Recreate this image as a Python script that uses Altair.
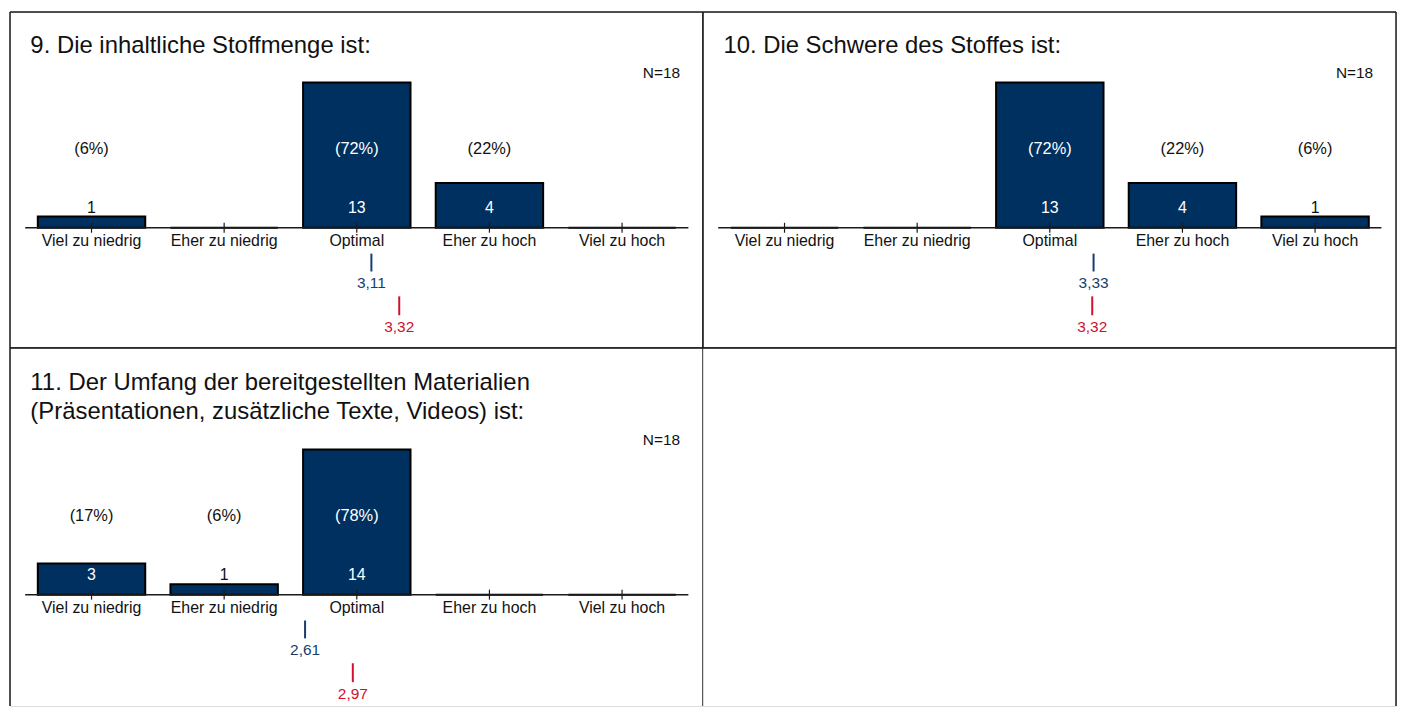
import altair as alt
import pandas as pd

# ---------------- data ----------------
categories = ["Viel zu niedrig", "Eher zu niedrig", "Optimal", "Eher zu hoch", "Viel zu hoch"]
titles = [
    "9. Die inhaltliche Stoffmenge ist:",
    "10. Die Schwere des Stoffes ist:",
    "11. Der Umfang der bereitgestellten Materialien\n(Präsentationen, zusätzliche Texte, Videos) ist:",
]
counts = [
    [1, 0, 13, 4, 0],
    [0, 0, 13, 4, 1],
    [3, 1, 14, 0, 0],
]
pct_labels = [
    ["(6%)", "", "(72%)", "(22%)", ""],
    ["", "", "(72%)", "(22%)", "(6%)"],
    ["(17%)", "(6%)", "(78%)", "", ""],
]
n_values = [18, 18, 18]
mean_blue = [3.11, 3.33, 2.61]
mean_red = [3.32, 3.32, 2.97]

# ---------------- style / layout ----------------
FONT = "Liberation Sans"
NAVY = "#00305f"
BLUE = "#173d6c"
RED = "#d0102c"
W = 697
MAX_BAR_PX = 146.0  # tallest bar of each panel, in pixels
CENTER1 = 82.0      # px of first category inside a panel
STEP = 133.4        # px between categories
XS = alt.Scale(domain=[1 - CENTER1 / STEP, 1 + (W - CENTER1) / STEP], nice=False, zero=False)


def border_layer(H, top=True, left=True, right=True, bottom=True):
    d = pd.DataFrame({"k": [0]})
    layers = []
    base = alt.Chart(d).mark_rule(color="#1a1a1a", strokeWidth=1.5)
    if top:
        layers.append(base.encode(x=alt.value(0), x2=alt.value(W), y=alt.value(0)))
    if bottom:
        layers.append(base.encode(x=alt.value(0), x2=alt.value(W), y=alt.value(H)))
    if left:
        layers.append(base.encode(x=alt.value(0), y=alt.value(0), y2=alt.value(H)))
    if right:
        layers.append(base.encode(x=alt.value(W), y=alt.value(0), y2=alt.value(H)))
    return layers


def make_panel(i, H, baseline, title_y, line_height, borders):
    ppu = MAX_BAR_PX / max(counts[i])
    ys = alt.Scale(domain=[-(H - baseline) / ppu, baseline / ppu], nice=False, zero=False)
    df = pd.DataFrame({
        "pos": [1, 2, 3, 4, 5],
        "cat": categories,
        "count": counts[i],
        "pct": pct_labels[i],
    })
    base = alt.Chart(df)

    bars = base.transform_calculate(
        x0="datum.pos - 0.405", x1="datum.pos + 0.405"
    ).mark_bar(fill=NAVY, stroke="black", strokeWidth=2).encode(
        x=alt.X("x0:Q", scale=XS, axis=None),
        x2="x1:Q",
        y=alt.Y("count:Q", scale=ys, axis=None),
        y2=alt.datum(0),
    )

    axis_line = alt.Chart(pd.DataFrame({"a": [0.5], "b": [5.5]})).mark_rule(
        color="#1a1a1a", strokeWidth=1.5
    ).encode(
        x=alt.X("a:Q", scale=XS, axis=None), x2="b:Q",
        y=alt.Y("z:Q", scale=ys, axis=None),
    ).transform_calculate(z="0")

    ticks = base.mark_rule(color="#1a1a1a", strokeWidth=1.2).encode(
        x=alt.X("pos:Q", scale=XS, axis=None),
        y=alt.value(baseline - 5), y2=alt.value(baseline + 5),
    )

    cat_labels = base.mark_text(font=FONT, fontSize=16, color="#111", baseline="middle").encode(
        x=alt.X("pos:Q", scale=XS, axis=None),
        y=alt.value(baseline + 13),
        text="cat:N",
    )

    count_labels = base.transform_filter("datum.count > 0").mark_text(
        font=FONT, fontSize=16, baseline="middle"
    ).encode(
        x=alt.X("pos:Q", scale=XS, axis=None),
        y=alt.value(baseline - 20),
        text="count:Q",
        color=alt.condition(f"datum.count * {ppu} >= 26", alt.value("white"), alt.value("#111")),
    )

    pct_text = base.transform_filter("datum.pct != ''").mark_text(
        font=FONT, fontSize=16.5, baseline="middle"
    ).encode(
        x=alt.X("pos:Q", scale=XS, axis=None),
        y=alt.value(baseline - 79),
        text="pct:N",
        color=alt.condition(f"datum.count * {ppu} >= 92", alt.value("white"), alt.value("#111")),
    )

    mdf = pd.DataFrame({"m": [mean_blue[i]], "r": [mean_red[i]]})
    mbase = alt.Chart(mdf).transform_calculate(
        ml="replace(format(datum.m, '.2f'), '.', ',')",
        rl="replace(format(datum.r, '.2f'), '.', ',')",
    )
    blue_tick = mbase.mark_rule(color=BLUE, strokeWidth=2).encode(
        x=alt.X("m:Q", scale=XS, axis=None),
        y=alt.value(baseline + 26), y2=alt.value(baseline + 44),
    )
    blue_text = mbase.mark_text(font=FONT, fontSize=15.5, color=BLUE, baseline="middle").encode(
        x=alt.X("m:Q", scale=XS, axis=None),
        y=alt.value(baseline + 56),
        text="ml:N",
    )
    red_tick = mbase.mark_rule(color=RED, strokeWidth=2).encode(
        x=alt.X("r:Q", scale=XS, axis=None),
        y=alt.value(baseline + 69), y2=alt.value(baseline + 88),
    )
    red_text = mbase.mark_text(font=FONT, fontSize=15.5, color=RED, baseline="middle").encode(
        x=alt.X("r:Q", scale=XS, axis=None),
        y=alt.value(baseline + 100),
        text="rl:N",
    )

    tdf = pd.DataFrame({"t": [titles[i]], "n": ["N=" + str(n_values[i])]})
    title = alt.Chart(tdf).mark_text(
        font=FONT, fontSize=24, color="#111", align="left", baseline="middle",
        lineBreak="\n", lineHeight=line_height,
    ).encode(x=alt.value(20.5), y=alt.value(title_y), text="t:N")
    ntext = alt.Chart(tdf).mark_text(
        font=FONT, fontSize=15.5, color="#111", align="right", baseline="middle"
    ).encode(x=alt.value(674), y=alt.value(baseline - 156), text="n:N")

    layers = [bars, axis_line, ticks, cat_labels, count_labels, pct_text,
              blue_tick, blue_text, red_tick, red_text, title, ntext]
    layers += border_layer(H, **borders)
    return alt.layer(*layers).properties(width=W, height=H)


H1 = 338
H2 = 360
p1 = make_panel(0, H1, 217, 34, 29, dict(top=True, left=True, right=True, bottom=True))
p2 = make_panel(1, H1, 217, 34, 29, dict(top=True, left=True, right=True, bottom=True))
p3 = make_panel(2, H2, 248, 35, 29, dict(top=True, left=True, right=True, bottom=False))

empty = alt.layer(*border_layer(H2, top=True, left=False, right=True, bottom=False)).properties(width=W, height=H2)

chart = alt.concat(p1, p2, p3, empty, columns=2, spacing=0, bounds="flush").properties(
    padding=0
).configure_view(stroke=None).configure(background="white")

chart.save("out.html", embed_options={"renderer": "svg", "actions": False})
